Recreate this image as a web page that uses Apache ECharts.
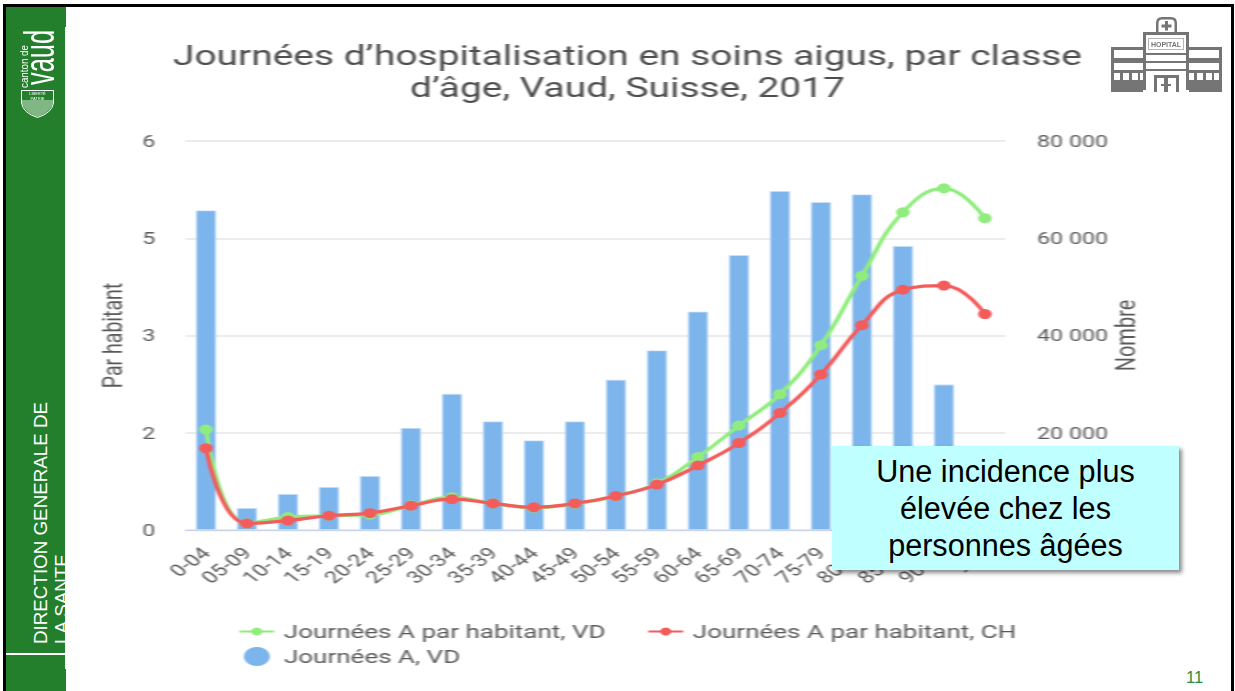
<!DOCTYPE html>
<html lang="fr"><head><meta charset="utf-8">
<script src="https://cdn.jsdelivr.net/npm/echarts@6/dist/echarts.min.js"></script>
<style>
html,body{margin:0;padding:0;background:#fff;width:1235px;height:691px;overflow:hidden;font-family:"Liberation Sans",Arial,sans-serif}
#chart{position:absolute;left:0;top:0;width:901.46px;height:691px;transform:scaleX(1.37);transform-origin:0 0;filter:blur(0.7px)}
.abs{position:absolute}
#frame{left:3px;top:4px;width:1225px;height:700px;border:3px solid #000;box-sizing:content-box;border-bottom:0}
#side{left:6px;top:7px;width:59px;height:684px;background:#237f2b}
#sideTop{left:6px;top:7px;width:60px;height:20px;background:#237f2b}
#sideBot{left:6px;top:669px;width:60px;height:22px;background:#237f2b}
#sideLine{left:6px;top:653px;width:59px;height:2px;background:#fff}
.vt{position:absolute;color:#fff;font-size:18.8px;white-space:nowrap;transform-origin:0 0;transform:rotate(-90deg);line-height:20px}
#clip{left:6px;top:380px;width:59px;height:273px;overflow:hidden}
#box{left:832px;top:446px;width:347px;height:123.5px;background:#bfffff;box-shadow:3px 3px 4px rgba(0,0,0,.45);color:#000;font-size:30.6px;line-height:37px;text-align:center;padding-top:7px;box-sizing:border-box}
#page{left:1186px;top:668px;color:#2e8b3a;font-size:16.5px}
#logo{left:6px;top:7px;filter:blur(.35px)}
#hospital{left:1108px;top:14px;filter:blur(.5px)}
</style></head><body>
<div id="chart"></div>
<div class="abs" id="frame"></div>
<div class="abs" id="side"></div><div class="abs" id="sideTop"></div><div class="abs" id="sideBot"></div>
<div class="abs" id="sideLine"></div>
<div class="abs" id="clip">
  <div class="vt" style="left:25px;top:264px">DIRECTION GENERALE DE</div>
  <div class="vt" style="left:46px;top:264px">LA SANTE</div>
</div>
<svg class="abs" id="logo" width="60" height="120" viewBox="0 0 60 120">
  <text transform="translate(48,78) rotate(-90) scale(1,1.37)" font-family="Liberation Sans" font-size="31" fill="#fff" textLength="55" lengthAdjust="spacingAndGlyphs">vaud</text>
  <text transform="translate(22,81) rotate(-90)" font-family="Liberation Sans" font-size="11" fill="#fff" textLength="43" lengthAdjust="spacingAndGlyphs">canton de</text>
  <path d="M15.500 83.500H47.500V96Q46 106 31.500 110.500Q17 106 15.500 96Z" fill="none" stroke="#fff" stroke-width="1"/>
  <path d="M16 93H47V96Q45 105 31.500 110Q18 105 16 96Z" fill="#cfe3cf" fill-opacity=".55"/>
  <text x="31.500" y="88" text-anchor="middle" font-family="Liberation Sans" font-size="4" fill="#fff">LIBERTÉ</text>
  <text x="31.500" y="92.500" text-anchor="middle" font-family="Liberation Sans" font-size="4" fill="#fff">PATRIE</text>
</svg>
<svg class="abs" id="hospital" width="116" height="80" viewBox="0 0 116 80" fill="#757575">
  <path d="M3 33H35V78H3ZM81 33H114V78H81Z"/>
  <path d="M6 36H35V44H6ZM6 49H35V56H6ZM81 36H111V44H81ZM81 49H111V56H81Z" fill="#fff"/>
  <path d="M6 59h6v7H6zM15 59h6v7h-6zM24 59h6v7h-6zM32 59h3v7h-3zM81 59h5v7h-5zM89 59h6v7h-6zM98 59h6v7h-6zM106 59h5v7h-5z" fill="#fff"/>
  <path d="M35 18H81V76H35Z"/><path d="M38 21H78V76H38Z" fill="#fff"/>
  <path d="M40 24H76V36H40Z" fill="#b5b5b5"/><path d="M41 25H75V35H41Z" fill="#fff"/>
  <text x="58" y="33" text-anchor="middle" font-family="Liberation Sans" font-size="7" font-weight="bold" fill="#757575">HOPITAL</text>
  <path d="M38 39H78V41H38ZM38 47H78V49H38ZM38 55H78V57H38Z"/>
  <path d="M46 61H71V78H46Z"/><path d="M49 64H56V78H49ZM60 64H68V78H60Z" fill="#fff"/>
  <path d="M57 66h2v4h4v2h-4v4h-2v-4h-4v-2h4z"/>
  <path d="M48 18V9Q48 3 54 3H63Q69 3 69 9V18Z"/><path d="M50.500 18V9Q50.500 5.500 54 5.500H63Q66.500 5.500 66.500 9V18Z" fill="#fff"/>
  <path d="M57 7h3v3.500h3.500v3H60v3h-3v-3h-3.500v-3H57z"/>
</svg>
<div class="abs" id="box">Une incidence plus<br>élevée chez les<br>personnes âgées</div>
<div class="abs" id="page">11</div>
<script>
const titleText = "Journées d’hospitalisation en soins aigus, par classe\nd’âge, Vaud, Suisse, 2017";
const ageClasses = ["0-04","05-09","10-14","15-19","20-24","25-29","30-34","35-39","40-44","45-49","50-54","55-59","60-64","65-69","70-74","75-79","80-84","85-89","90-94","95+"];
const joursVD = [65700,4500,7400,8800,11100,21000,28000,22300,18400,22300,30900,36900,44900,56500,69700,67400,69000,58400,29900,9000];
const parHabVD = [1.55,0.10,0.20,0.22,0.235,0.38,0.505,0.41,0.345,0.405,0.525,0.72,1.125,1.61,2.095,2.85,3.92,4.90,5.27,4.81];
const parHabCH = [1.26,0.10,0.145,0.22,0.26,0.375,0.475,0.41,0.35,0.41,0.525,0.70,0.995,1.34,1.805,2.40,3.16,3.705,3.77,3.33];
const nameLeft = "Par habitant", nameRight = "Nombre";
const seriesNames = ["Journées A par habitant, VD","Journées A par habitant, CH","Journées A, VD"];
const txt = "#5a5a5a", font = "Roboto";
const chart = echarts.init(document.getElementById("chart"), null, {renderer:"svg"});
const lineSeries = (name,data,color,z)=>({name,type:"line",yAxisIndex:0,data,smooth:0.45,symbol:"circle",symbolSize:10,z,
  lineStyle:{color,width:3.2},itemStyle:{color}});
chart.setOption({
  animation:false,
  title:{text:titleText,left:458,top:38,textAlign:"center",padding:0,
    textStyle:{fontFamily:font,fontSize:28.4,fontWeight:"normal",color:"#4d4d4d",lineHeight:33}},
  grid:{left:135.4,width:598.5,top:141,height:389},
  legend:[
    {data:seriesNames.slice(0,2),left:173.7,top:622,padding:0,itemWidth:25.5,itemHeight:10,itemGap:30,
      textStyle:{fontFamily:font,fontSize:19,color:txt,padding:[0,0,0,2]}},
    {data:seriesNames.slice(2),left:178,top:647,padding:0,itemWidth:25.5,itemHeight:19,icon:"circle",
      itemStyle:{borderWidth:0},
      textStyle:{fontFamily:font,fontSize:19,color:txt,padding:[0,0,0,2]}}
  ],
  xAxis:{type:"category",data:ageClasses,
    axisLine:{lineStyle:{color:"#ccd6eb",width:1.4}},
    axisTick:{length:15,alignWithLabel:false,lineStyle:{color:"#ccd6eb",width:1.4}},
    axisLabel:{interval:0,rotate:45,fontFamily:font,fontSize:17,color:txt,margin:20}},
  yAxis:[
    {type:"value",min:0,max:6,interval:1.5,name:nameLeft,nameLocation:"middle",nameGap:43,
      nameTextStyle:{fontFamily:font,fontSize:19.5,color:txt},
      axisLine:{show:false},axisTick:{show:false},
      axisLabel:{fontFamily:font,fontSize:17,color:txt,margin:22,formatter:v=>String(Math.round(v))},
      splitLine:{lineStyle:{color:"#e6e6e6",width:1.6}}},
    {type:"value",min:0,max:80000,interval:20000,name:nameRight,nameLocation:"middle",nameGap:78,nameMoveOverlap:false,
      nameTextStyle:{fontFamily:font,fontSize:20,color:txt},
      axisLine:{show:false},axisTick:{show:false},
      axisLabel:{fontFamily:font,fontSize:17,color:txt,margin:23,formatter:v=>v===0?"":String(v).replace(/(\d)(\d{3})$/,"$1 $2")},
      splitLine:{show:false}}
  ],
  series:[
    {name:seriesNames[2],type:"bar",yAxisIndex:1,data:joursVD,barWidth:"49%",z:2,
      itemStyle:{color:"#7cb5ec",borderColor:"#c4dcf6",borderWidth:0.8}},
    lineSeries(seriesNames[0],parHabVD,"#90ed7d",3),
    lineSeries(seriesNames[1],parHabCH,"#f45b5b",4)
  ]
});
</script>
</body></html>
